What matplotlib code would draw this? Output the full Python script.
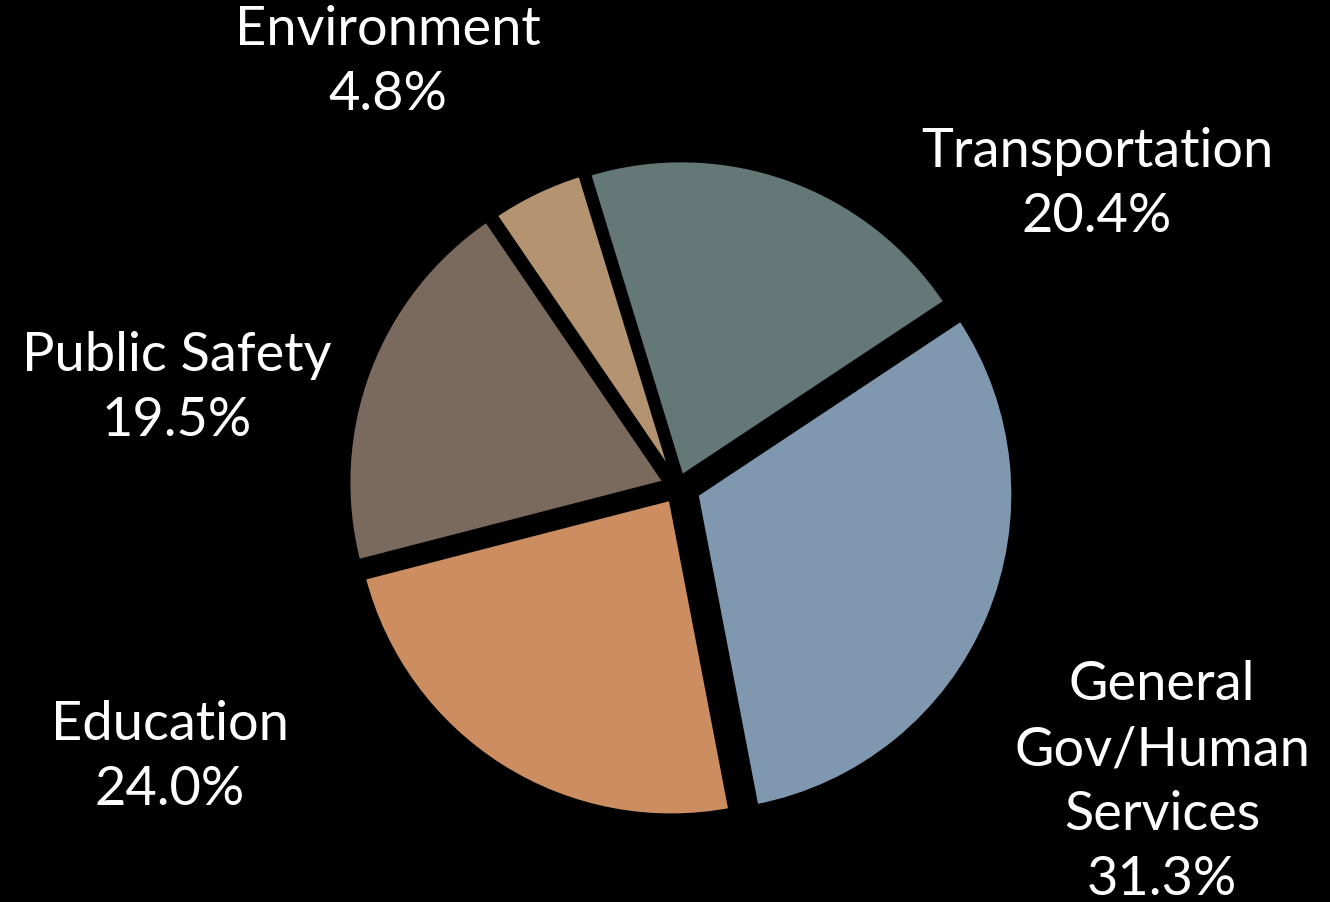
import matplotlib.pyplot as plt

# dados
categorias = ['Transportation', 'General\nGov/Human\nServices', 'Education', 'Public Safety', 'Environment']
valores = [20.4, 31.3, 24.0, 19.5, 4.8]
cores = ['#647878', '#7F97AF', '#CC8D61', '#7A6A5E', '#B39370']
destaque = [0.03, 0.06, 0.04, 0.04, 0.03]

fig = plt.figure(figsize=(13.3, 9.02), dpi=100, facecolor='black')
ax = fig.add_axes([0, 0, 1, 1])
ax.set_facecolor('black')

fatias, _ = ax.pie(valores, colors=cores, startangle=107, counterclock=False,
                   explode=destaque, radius=0.995,
                   wedgeprops=dict(edgecolor='black', linewidth=4))

escala = 320.0  # pixels por unidade
cx, cy = 678, 487
ax.set_xlim(-cx / escala, (1330 - cx) / escala)
ax.set_ylim(-(902 - cy) / escala, cy / escala)
ax.set_aspect('equal')
ax.axis('off')

# posições dos rótulos (pixels)
pos_rotulos = [(1097, 184), (1162, 782), (170, 757), (177, 388), (388, 62)]
for nome, v, (px, py) in zip(categorias, valores, pos_rotulos):
    ax.text((px - cx) / escala, (cy - py) / escala, f'{nome}\n{v:.1f}%',
            ha='center', va='center', color='white', fontsize=39,
            family='Lato', linespacing=1.4)

fig.savefig('out.png', dpi=100, facecolor='black')
